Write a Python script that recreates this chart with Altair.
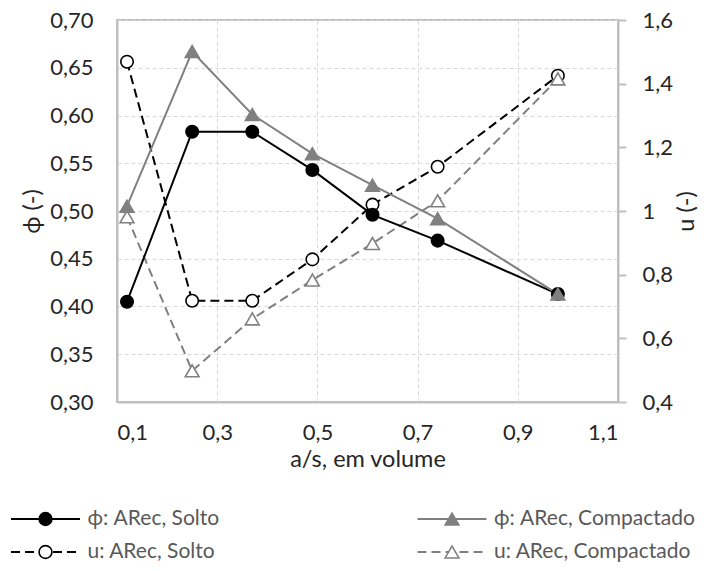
import altair as alt
import pandas as pd

# ---------------- data ----------------
x_vals = [0.12, 0.25, 0.37, 0.49, 0.61, 0.74, 0.98]
phi_solto = [0.405, 0.583, 0.583, 0.543, 0.496, 0.469, 0.413]
phi_compactado = [0.505, 0.667, 0.601, 0.560, 0.527, 0.492, 0.413]
u_solto = [1.469, 0.718, 0.718, 0.848, 1.020, 1.139, 1.425]
u_compactado = [0.982, 0.498, 0.661, 0.783, 0.898, 1.032, 1.415]

series_names = ["ϕ: ARec, Solto", "ϕ: ARec, Compactado",
                "u: ARec, Solto", "u: ARec, Compactado"]
x_ticks = [0.1, 0.3, 0.5, 0.7, 0.9, 1.1]
phi_ticks = [0.30, 0.35, 0.40, 0.45, 0.50, 0.55, 0.60, 0.65, 0.70]
u_ticks = [0.4, 0.6, 0.8, 1.0, 1.2, 1.4, 1.6]

# ---------------- styles ----------------
BLACK = "#000000"
GRAY = "#808080"
stroke_colors = [BLACK, GRAY, BLACK, GRAY]
fill_colors = [BLACK, GRAY, "#ffffff", "#ffffff"]
FONT = "Lato"

phi_df = pd.DataFrame({
    "x": x_vals * 2,
    "v": phi_solto + phi_compactado,
    "serie": [series_names[0]] * len(x_vals) + [series_names[1]] * len(x_vals),
})
u_df = pd.DataFrame({
    "x": x_vals * 2,
    "v": u_solto + u_compactado,
    "serie": [series_names[2]] * len(x_vals) + [series_names[3]] * len(x_vals),
})
legend_df = pd.DataFrame({"serie": series_names, "idx": list(range(len(series_names)))})

stroke_scale = alt.Scale(domain=series_names, range=stroke_colors)
fill_scale = alt.Scale(domain=series_names, range=fill_colors)
stroke_nl = alt.Stroke("serie:N", scale=stroke_scale, legend=None)
fill_nl = alt.Fill("serie:N", scale=fill_scale, legend=None)

x_enc = alt.X(
    "x:Q",
    scale=alt.Scale(domain=[0.1, 1.1], nice=False, zero=False),
    axis=alt.Axis(
        values=x_ticks, title="a/s, em volume", grid=True,
        labelExpr="replace(format(datum.value, '.1f'), '.', ',')",
        ticks=False, tickSize=0, labelPadding=37, labelBaseline="alphabetic",
        titleY=64, titleBaseline="alphabetic", titleFontSize=23.5,
    ),
)

y_left = alt.Y(
    "v:Q",
    scale=alt.Scale(domain=[0.30, 0.70], nice=False, zero=False),
    axis=alt.Axis(
        orient="left", values=phi_ticks, title="ϕ (-)", grid=True,
        labelExpr="replace(format(datum.value, '.2f'), '.', ',')",
        ticks=False, tickSize=0, labelPadding=24,
        titleAngle=270, titleX=-85, titleY=191,
        titleAlign="center", titleBaseline="middle", titleFontSize=23.5,
    ),
)

y_right = alt.Y(
    "v:Q",
    scale=alt.Scale(domain=[0.4, 1.6], nice=False, zero=False),
    axis=alt.Axis(
        orient="right", values=u_ticks, title="u (-)", grid=False,
        labelExpr="replace(format(datum.value, '.1~f'), '.', ',')",
        ticks=True, tickSize=8, tickColor="#bfbfbf", tickWidth=2,
        labelPadding=16,
        titleAngle=270, titleX=68, titleY=191,
        titleAlign="center", titleBaseline="middle", titleFontSize=23.5,
    ),
)

# ---------------- right axis (u) ----------------
u_base = alt.Chart(u_df).encode(x=x_enc, y=y_right)
u_line = u_base.mark_line(strokeWidth=2, strokeDash=[9, 5]).encode(stroke=stroke_nl)
u_circ = u_base.transform_filter(
    alt.FieldEqualPredicate(field="serie", equal=series_names[2])
).mark_point(shape="circle", size=155, filled=True, strokeWidth=1.6, opacity=1).encode(
    stroke=stroke_nl, fill=fill_nl)
u_tri = u_base.transform_filter(
    alt.FieldEqualPredicate(field="serie", equal=series_names[3])
).mark_point(shape="triangle-up", size=190, filled=True, strokeWidth=1.6, opacity=1).encode(
    stroke=stroke_nl, fill=fill_nl)
u_layer = alt.layer(u_line, u_circ, u_tri)

# ---------------- left axis (phi) ----------------
p_base = alt.Chart(phi_df).encode(x=x_enc, y=y_left)
p_line = p_base.mark_line(strokeWidth=2).encode(stroke=stroke_nl)
p_circ = p_base.transform_filter(
    alt.FieldEqualPredicate(field="serie", equal=series_names[0])
).mark_point(shape="circle", size=155, filled=True, strokeWidth=1.6, opacity=1).encode(
    stroke=stroke_nl, fill=fill_nl)
p_tri = p_base.transform_filter(
    alt.FieldEqualPredicate(field="serie", equal=series_names[1])
).mark_point(shape="triangle-up", size=190, filled=True, strokeWidth=1.6, opacity=1).encode(
    stroke=stroke_nl, fill=fill_nl)

# ---------------- legend (drawn below the plot, pixel layout) ----------------
# layout: 2 columns x 2 rows, positions in pixels relative to the plot origin
leg_base = alt.Chart(legend_df).transform_calculate(
    lx="datum.idx % 2 == 0 ? -71.5 : 335",
    ly="datum.idx < 2 ? 499 : 532",
).transform_calculate(
    l0="datum.lx - 34.5", l1="datum.lx + 34.5", tx="datum.lx + 42",
)
leg_y = alt.Y("ly:Q", scale=None)
leg_solid = leg_base.transform_filter("datum.idx < 2").mark_rule(strokeWidth=2).encode(
    x=alt.X("l0:Q", scale=None), x2="l1:Q", y=leg_y, stroke=stroke_nl)
leg_dash = leg_base.transform_filter("datum.idx >= 2").mark_rule(
    strokeWidth=2, strokeDash=[9, 5]).encode(
    x=alt.X("l0:Q", scale=None), x2="l1:Q", y=leg_y, stroke=stroke_nl)
leg_circ = leg_base.transform_filter("datum.idx % 2 == 0").mark_point(
    shape="circle", size=165, filled=True, strokeWidth=1.6, opacity=1).encode(
    x=alt.X("lx:Q", scale=None), y=leg_y, stroke=stroke_nl, fill=fill_nl)
leg_tri = leg_base.transform_filter("datum.idx % 2 == 1").mark_point(
    shape="triangle-up", size=190, filled=True, strokeWidth=1.6, opacity=1).encode(
    x=alt.X("lx:Q", scale=None), y=leg_y, stroke=stroke_nl, fill=fill_nl)
leg_text = leg_base.mark_text(
    align="left", baseline="middle", font=FONT, fontSize=21, color="#595959").encode(
    x=alt.X("tx:Q", scale=None), y=leg_y, text="serie:N")

p_layer = alt.layer(p_line, p_circ, p_tri, leg_solid, leg_dash, leg_circ, leg_tri, leg_text)

chart = alt.layer(u_layer, p_layer).resolve_scale(y="independent").properties(
    width=501, height=382,
    padding={"left": 109, "top": 12, "right": 82, "bottom": 161},
    autosize=alt.AutoSizeParams(type="none"),
).configure_view(
    stroke="#bfbfbf", strokeWidth=2
).configure_axis(
    labelFont=FONT, labelFontSize=22, labelColor="#262626",
    titleFont=FONT, titleFontSize=22, titleColor="#262626", titleFontWeight="normal",
    domainColor="#bfbfbf", domainWidth=2,
    gridColor="#d9d9d9", gridDash=[4, 3], gridWidth=1,
)

chart.save("out.html", embed_options={"renderer": "svg", "actions": False})
